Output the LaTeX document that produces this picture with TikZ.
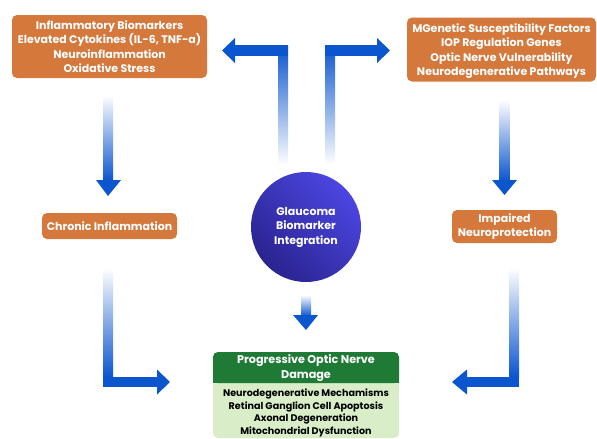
\documentclass[tikz,border=0pt]{standalone}
\usepackage{fontspec}
\setmainfont{Poppins}
\definecolor{obox}{HTML}{D4783C}
\definecolor{ablue}{HTML}{0B55CF}
\definecolor{cirA}{HTML}{4C46E2}
\definecolor{cirB}{HTML}{2A238F}
\definecolor{gdark}{HTML}{1F7A35}
\definecolor{glight}{HTML}{D8EDC8}
\begin{document}
\begin{tikzpicture}[x=1pt,y=-1pt,
  orangebox/.style={fill=obox,rounded corners=5pt,text=white,align=center,inner sep=0pt,
    font=\fontsize{11}{14.3}\selectfont\bfseries},
]
\useasboundingbox (0,0) rectangle (597,439);
% boxes
\node[orangebox,minimum width=195pt,minimum height=63pt] (inf) at (109.5,46.5)
  {Inflammatory Biomarkers\\Elevated Cytokines (IL-6, TNF-a)\\Neuroinflammation\\Oxidative Stress};
\node[orangebox,minimum width=189pt,minimum height=64pt,text depth=0pt] (gen) at (501.5,49.5)
  {MGenetic Susceptibility Factors\\IOP Regulation Genes\\Optic Nerve Vulnerability\\Neurodegenerative Pathways};
\node[orangebox,minimum width=135pt,minimum height=26pt] (chr) at (109.5,226)
  {Chronic Inflammation};
\node[orangebox,minimum width=105pt,minimum height=33pt] (imp) at (504.5,226.5)
  {Impaired\\Neuroprotection};
% circle
\shade[left color=cirA,right color=cirB,shading angle=-45] (306,227) circle (55pt);
\node[text=white,align=center,font=\fontsize{11}{14.5}\selectfont\bfseries] (glc) at (306,227)
  {Glaucoma\\Biomarker\\Integration};
% bottom box
\fill[glight,rounded corners=5pt] (213,352) rectangle (399,438);
\fill[gdark,rounded corners=5pt] (213,352) rectangle (399,383);
\fill[gdark] (213,372) rectangle (399,383);
\node[text=white,align=center,font=\fontsize{11.2}{15}\selectfont\bfseries] (prog) at (306,368)
  {Progressive Optic Nerve\\Damage};
\node[text=black,align=center,font=\fontsize{9.6}{12.5}\selectfont\bfseries] (mech) at (306,413)
  {Neurodegenerative Mechamisms\\Retinal Ganglion Cell Apoptosis\\Axonal Degeneration\\Mitochondrial Dysfunction};
% top-left L arrow
\shade[top color=ablue,bottom color=white] (278,45) rectangle (288,165);
\fill[ablue] (235,45) rectangle (288,56);
\fill[ablue] (222,50.5) -- (235,38) -- (235,63) -- cycle;
% top-right L arrow
\shade[top color=ablue,bottom color=white] (325,45) rectangle (335,165);
\fill[ablue] (325,45) rectangle (377,56);
\fill[ablue] (390,50.5) -- (377,38) -- (377,63) -- cycle;
% left down arrow
\shade[top color=white,bottom color=ablue] (103,95) rectangle (113,181);
\fill[ablue] (96,180) -- (121,180) -- (108,196) -- cycle;
% right down arrow
\shade[top color=white,bottom color=ablue] (499.5,100) rectangle (509.5,181);
\fill[ablue] (492,180) -- (517,180) -- (504.5,195) -- cycle;
% center down arrow
\shade[top color=white,bottom color=ablue] (301,295) rectangle (311,316);
\fill[ablue] (293,315) -- (318,315) -- (306,330) -- cycle;
% bottom-left L arrow
\shade[top color=white,bottom color=ablue] (103,268) rectangle (113,377);
\fill[ablue] (103,377) rectangle (158,387);
\fill[ablue] (170,382) -- (157,369.5) -- (157,394.5) -- cycle;
% bottom-right L arrow
\shade[top color=white,bottom color=ablue] (509,268) rectangle (519,377);
\fill[ablue] (466,377) rectangle (519,387);
\fill[ablue] (452,382) -- (467,369.5) -- (467,394.5) -- cycle;
\end{tikzpicture}
\end{document}
